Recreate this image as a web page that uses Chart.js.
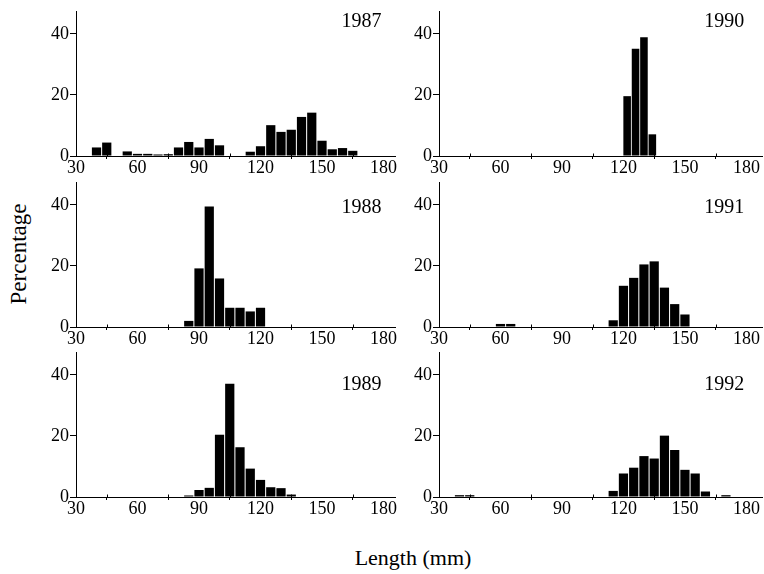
<!DOCTYPE html>
<html>
<head>
<meta charset="utf-8">
<script src="https://cdn.jsdelivr.net/npm/chart.js@4.4.1/dist/chart.umd.min.js"></script>
<style>
  body { margin: 0; background: #fff; }
  #wrap { position: relative; width: 764px; height: 574px; overflow: hidden; }
  canvas { position: absolute; }
  .title { position: absolute; font-family: "Liberation Serif", serif; color: #000; white-space: nowrap; }
  #ytitle { font-size: 23px; left: 19px; top: 254px; transform: translate(-50%, -50%) rotate(-90deg); }
  #xtitle { font-size: 22px; left: 413px; top: 545px; transform: translateX(-50%); }
</style>
</head>
<body>
<div id="wrap">
  <div class="title" id="ytitle">Percentage</div>
  <div class="title" id="xtitle">Length (mm)</div>
</div>
<script>
const xTicks = [30, 60, 90, 120, 150, 180];
const xMinor = [45, 75, 105, 135, 165];
const yTicks = [0, 20, 40];

const len1987 = [40, 45, 55, 60, 65, 70, 75, 80, 85, 90, 95, 100, 115, 120, 125, 130, 135, 140, 145, 150, 155, 160, 165];
const pct1987 = [2.8, 4.4, 1.5, 0.7, 0.7, 0.5, 0.6, 2.8, 4.6, 2.8, 5.6, 3.5, 1.4, 3.2, 10.1, 7.9, 8.6, 12.8, 14.2, 5.0, 2.2, 2.6, 1.7];

const len1988 = [85, 90, 95, 100, 105, 110, 115, 120];
const pct1988 = [2.0, 19.2, 39.5, 15.9, 6.3, 6.3, 5.1, 6.3];

const len1989 = [85, 90, 95, 100, 105, 110, 115, 120, 125, 130, 135];
const pct1989 = [0.5, 2.3, 3.0, 20.4, 37.1, 16.3, 9.3, 5.6, 3.2, 2.9, 0.8];

const len1990 = [121.8, 125.9, 130, 134.1];
const pct1990 = [19.6, 35.1, 38.9, 7.1];

const len1991 = [60, 65, 115, 120, 125, 130, 135, 140, 145, 150];
const pct1991 = [1.0, 1.0, 2.2, 13.5, 16.1, 20.5, 21.5, 12.9, 7.5, 4.1];

const len1992 = [40, 45, 115, 120, 125, 130, 135, 140, 145, 150, 155, 160, 170];
const pct1992 = [0.6, 0.6, 2.0, 7.7, 9.6, 13.4, 12.6, 20.1, 15.4, 8.9, 7.7, 1.8, 0.6];

const FAMILY = "'Liberation Serif', serif";
const TICKFONT = { family: FAMILY, size: 18 };

// year label in the corner + small inward minor ticks on the x axis
const panelDecor = {
  id: 'panelDecor',
  afterDraw(chart, args, opts) {
    const ctx = chart.ctx;
    const x = chart.scales.x, y = chart.scales.y;
    ctx.save();
    ctx.strokeStyle = '#000';
    ctx.lineWidth = 1;
    const base = Math.round(y.getPixelForValue(0)) + 0.5;
    xMinor.forEach(v => {
      const px = Math.round(x.getPixelForValue(v)) + 0.5;
      ctx.beginPath();
      ctx.moveTo(px, base);
      ctx.lineTo(px, base - 3);
      ctx.stroke();
    });
    ctx.fillStyle = '#000';
    ctx.font = '20px ' + FAMILY;
    ctx.textAlign = 'right';
    ctx.textBaseline = 'alphabetic';
    ctx.fillText(opts.text, x.getPixelForValue(179), y.getPixelForValue(opts.labelY));
    ctx.restore();
  }
};

function makePanel(year, lens, pcts, col, row, labelY) {
  const axisY = [156, 326.7, 496.7][row];
  const canvas = document.createElement('canvas');
  const left = col === 0 ? 0 : 400;
  const w = col === 0 ? 400 : 364;
  const h = 12 + 145 + 26;
  canvas.width = w;
  canvas.height = h;
  canvas.style.left = left + 'px';
  canvas.style.top = (axisY - 145 - 12) + 'px';
  document.getElementById('wrap').appendChild(canvas);

  new Chart(canvas, {
    type: 'bar',
    data: {
      datasets: [{
        data: lens.map((l, i) => ({ x: l, y: pcts[i] })),
        backgroundColor: '#000',
        borderWidth: 0,
        barPercentage: 0.9,
        categoryPercentage: 1
      }]
    },
    options: {
      responsive: false,
      animation: false,
      devicePixelRatio: 1,
      layout: { padding: { top: 12, right: col === 0 ? 5 : 2, left: 0, bottom: 0 } },
      plugins: {
        legend: { display: false },
        tooltip: { enabled: false },
        panelDecor: { text: year, labelY: labelY }
      },
      scales: {
        x: {
          type: 'linear',
          min: 30,
          max: col === 0 ? 185.6 : 187.6,
          offset: false,
          afterBuildTicks: s => { s.ticks = xTicks.map(v => ({ value: v })); },
          afterFit: s => { s.height = 26; },
          grid: { drawOnChartArea: false, tickLength: 3, color: '#000' },
          border: { color: '#000', width: 1 },
          ticks: { color: '#000', font: TICKFONT, padding: -2, maxRotation: 0, autoSkip: false }
        },
        y: {
          min: 0,
          max: 47.5,
          afterBuildTicks: s => { s.ticks = yTicks.map(v => ({ value: v })); },
          afterFit: s => { s.width = col === 0 ? 76 : 39; },
          grid: { drawOnChartArea: false, tickLength: 6, color: '#000' },
          border: { color: '#000', width: 1 },
          ticks: { color: '#000', font: TICKFONT, padding: 1 }
        }
      }
    },
    plugins: [panelDecor]
  });
}

makePanel('1987', len1987, pct1987, 0, 0, 42.4);
makePanel('1988', len1988, pct1988, 0, 1, 37.5);
makePanel('1989', len1989, pct1989, 0, 2, 35);
makePanel('1990', len1990, pct1990, 1, 0, 42.4);
makePanel('1991', len1991, pct1991, 1, 1, 37.5);
makePanel('1992', len1992, pct1992, 1, 2, 35);
</script>
</body>
</html>
